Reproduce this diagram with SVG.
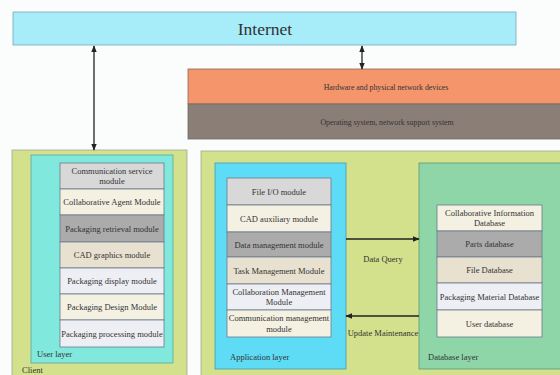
<svg xmlns="http://www.w3.org/2000/svg" width="560" height="375" viewBox="0 0 560 375">
<defs>
<marker id="ah" viewBox="0 0 10 10" refX="9" refY="5" markerWidth="7" markerHeight="7" orient="auto-start-reverse" markerUnits="userSpaceOnUse"><path d="M0,1 L10,5 L0,9 z" fill="#222"/></marker>
<style>
text{font-family:"Liberation Serif","Times New Roman",serif;fill:#333;}
.m{font-size:8.5px;text-anchor:middle;}
.lbl{font-size:8.5px;}
.mod{stroke:#6a7a8a;stroke-width:0.8;}
.c{stroke:#222;stroke-width:1.3;fill:none;}
</style>
</defs>
<rect width="560" height="375" fill="#fbfcfc"/>
<g id="internet">
<rect x="13" y="12" width="503" height="33" fill="#a6ecf9" stroke="#7aa8b8" stroke-width="0.8"/>
<text x="265" y="34.5" font-size="17.5" text-anchor="middle" fill="#2a3a40">Internet</text>
</g>
<g id="hardware">
<rect x="188" y="69" width="374" height="35" fill="#f4956b" stroke="#8a6a5a" stroke-width="0.8"/>
<text x="386" y="90" font-size="7.8" text-anchor="middle" fill="#5a2a1a">Hardware and physical network devices</text>
</g>
<g id="os">
<rect x="188" y="104" width="374" height="35" fill="#8b7e76" stroke="#6a6a6a" stroke-width="0.8"/>
<text x="387" y="125" font-size="7.8" text-anchor="middle" fill="#2a2a2a">Operating system, network support system</text>
</g>
<g id="client">
<rect x="12" y="150" width="175" height="230" fill="#d3e08c" stroke="#a0a890" stroke-width="0.8"/>
<text class="lbl" x="22" y="373">Client</text>
</g>
<g id="user-layer">
<rect x="31" y="155" width="142" height="208" fill="#80e8dc" stroke="#5aa8a0" stroke-width="0.8"/>
<text class="lbl" x="37" y="357">User layer</text>
</g>
<g id="user-modules">
<g id="um1"><rect class="mod" x="60" y="163" width="104" height="26" fill="#d8d8d8"/><text class="m" x="112" y="173.5">Communication service</text><text class="m" x="112" y="184">module</text></g>
<g id="um2"><rect class="mod" x="60" y="189" width="104" height="26" fill="#f4f0e2"/><text class="m" x="112" y="205">Collaborative Agent Module</text></g>
<g id="um3"><rect class="mod" x="60" y="215" width="104" height="27" fill="#ababab"/><text class="m" x="112" y="231.5">Packaging retrieval module</text></g>
<g id="um4"><rect class="mod" x="60" y="242" width="104" height="26" fill="#e8e1d0"/><text class="m" x="112" y="258">CAD graphics module</text></g>
<g id="um5"><rect class="mod" x="60" y="268" width="104" height="26" fill="#eeeff4"/><text class="m" x="112" y="284">Packaging display module</text></g>
<g id="um6"><rect class="mod" x="60" y="294" width="104" height="26" fill="#f4f0e2"/><text class="m" x="112" y="310">Packaging Design Module</text></g>
<g id="um7"><rect class="mod" x="60" y="320" width="104" height="27" fill="#eeeff4"/><text class="m" x="112" y="336.5">Packaging processing module</text></g>
</g>
<g id="server">
<rect x="201" y="151" width="362" height="230" fill="#d3e08c" stroke="#a0a890" stroke-width="0.8"/>
</g>
<g id="application-layer">
<rect x="215" y="163" width="131" height="206" fill="#5edcf5" stroke="#4a9ab0" stroke-width="0.8"/>
<text class="lbl" x="230" y="360" fill="#1a4a6a">Application layer</text>
</g>
<g id="app-modules">
<g id="am1"><rect class="mod" x="227" y="178" width="104" height="27" fill="#d8d8d8"/><text class="m" x="279" y="194.5">File I/O module</text></g>
<g id="am2"><rect class="mod" x="227" y="205" width="104" height="27" fill="#f4f0e2"/><text class="m" x="279" y="221.5">CAD auxiliary module</text></g>
<g id="am3"><rect class="mod" x="227" y="232" width="104" height="25" fill="#ababab"/><text class="m" x="279" y="247.5">Data management module</text></g>
<g id="am4"><rect class="mod" x="227" y="257" width="104" height="27" fill="#e8e1d0"/><text class="m" x="279" y="273.5">Task Management Module</text></g>
<g id="am5"><rect class="mod" x="227" y="284" width="104" height="26" fill="#eeeff4"/><text class="m" x="279" y="294.5">Collaboration Management</text><text class="m" x="279" y="305">Module</text></g>
<g id="am6"><rect class="mod" x="227" y="310" width="104" height="27" fill="#f4f0e2"/><text class="m" x="279" y="321">Communication management</text><text class="m" x="279" y="331.5">module</text></g>
</g>
<g id="database-layer">
<rect x="419" y="163" width="142" height="206" fill="#8ed6a8" stroke="#5a9a7a" stroke-width="0.8"/>
<text class="lbl" x="428" y="360" fill="#1a4a4a">Database layer</text>
</g>
<g id="db-modules">
<g id="db1"><rect class="mod" x="437" y="205" width="105" height="26" fill="#f4f0e2"/><text class="m" x="489.5" y="215.5">Collaborative Information</text><text class="m" x="489.5" y="226">Database</text></g>
<g id="db2"><rect class="mod" x="437" y="231" width="105" height="26" fill="#ababab"/><text class="m" x="489.5" y="247">Parts database</text></g>
<g id="db3"><rect class="mod" x="437" y="257" width="105" height="26" fill="#e8e1d0"/><text class="m" x="489.5" y="273">File Database</text></g>
<g id="db4"><rect class="mod" x="437" y="283" width="105" height="27" fill="#eeeff4"/><text class="m" x="489.5" y="299.5">Packaging Material Database</text></g>
<g id="db5"><rect class="mod" x="437" y="310" width="105" height="27" fill="#f4f0e2"/><text class="m" x="489.5" y="326.5">User database</text></g>
</g>
<g id="connectors">
<line class="c" x1="94" y1="46" x2="94" y2="150" marker-start="url(#ah)" marker-end="url(#ah)"/>
<line class="c" x1="362" y1="46" x2="362" y2="69" marker-start="url(#ah)" marker-end="url(#ah)"/>
<line class="c" x1="346" y1="239" x2="419" y2="239" marker-end="url(#ah)"/>
<line class="c" x1="419" y1="316" x2="346" y2="316" marker-end="url(#ah)"/>
<text class="m" x="383" y="262">Data Query</text>
<text class="m" x="383" y="336">Update Maintenance</text>
</g>
</svg>
